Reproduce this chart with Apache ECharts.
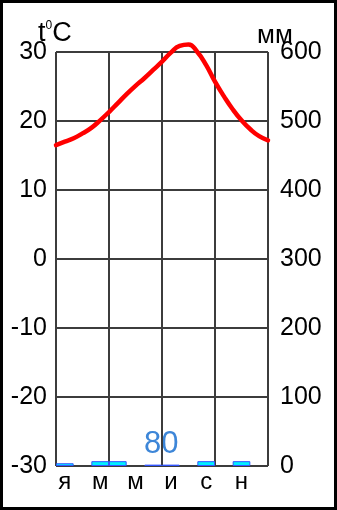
<!DOCTYPE html>
<html>
<head>
<meta charset="utf-8">
<script src="https://cdn.jsdelivr.net/npm/echarts@6/dist/echarts.min.js"></script>
<style>
html,body{margin:0;padding:0;background:#fff;}
#chart{width:337px;height:510px;}
</style>
</head>
<body>
<div id="chart"></div>
<script>
// Data
const months = ['я','ф','м','а','м','и','и','а','с','о','н','д'];
const monthLabels = ['я','','м','','м','','и','','с','','н',''];
const precipitation = [4, 0, 7, 7, 0, 2, 2, 0, 7, 0, 7, 0];
// temperature curve every half month (0..12)
const tempX = [0, 0.5, 1, 1.5, 2, 2.5, 3, 3.5, 4, 4.5, 5, 5.5, 6, 6.5, 7, 7.5, 8, 8.5, 9, 9.5, 10, 10.5, 11, 11.5, 12];
const tempY = [16.5, 17.0, 17.5, 18.2, 19.0, 20.1, 21.3, 22.6, 23.9, 25.1, 26.2, 27.4, 28.6, 29.9, 30.9, 31.1, 30.0, 28.1, 25.7, 23.6, 21.7, 20.1, 18.8, 17.8, 17.2];
const tempTicks = [-30, -20, -10, 0, 10, 20, 30];
const precipTicks = [0, 100, 200, 300, 400, 500, 600];
const totalLabel = '80';

const chart = echarts.init(document.getElementById('chart'), null, {renderer: 'canvas'});
const font = '"Liberation Sans", Arial, sans-serif';
const gridColor = '#3c3c3c';

const option = {
  animation: false,
  grid: {left: 56, right: 69, top: 52, bottom: 44},
  xAxis: [
    {
      type: 'category',
      data: months,
      boundaryGap: true,
      axisLine: {show: false},
      axisTick: {show: false},
      splitLine: {show: false},
      axisLabel: {
        interval: 0,
        formatter: (v, i) => monthLabels[i],
        color: '#000', fontSize: 24, fontFamily: font, margin: 4
      }
    },
    {
      type: 'value',
      min: 0, max: 12, interval: 3,
      position: 'bottom',
      show: true,
      axisLine: {show: false},
      axisTick: {show: false},
      axisLabel: {show: false},
      splitLine: {show: true, lineStyle: {color: gridColor, width: 2}}
    }
  ],
  yAxis: [
    {
      type: 'value',
      min: -30, max: 30, interval: 10,
      axisLine: {show: false},
      axisTick: {show: false},
      splitLine: {show: true, lineStyle: {color: gridColor, width: 2}},
      axisLabel: {color: '#000', fontSize: 25, fontFamily: font, margin: 9}
    },
    {
      type: 'value',
      min: 0, max: 600, interval: 100,
      axisLine: {show: false},
      axisTick: {show: false},
      splitLine: {show: false},
      axisLabel: {color: '#000', fontSize: 25, fontFamily: font, margin: 12}
    }
  ],
  series: [
    {
      type: 'bar',
      xAxisIndex: 0,
      yAxisIndex: 1,
      data: precipitation.map(v => (v > 0 ? v : '-')),
      barCategoryGap: '0%',
      itemStyle: {color: '#00f0ff', borderColor: '#3355ff', borderWidth: 1}
    },
    {
      type: 'line',
      xAxisIndex: 1,
      yAxisIndex: 0,
      data: tempX.map((x, i) => [x, tempY[i]]),
      smooth: 0.5,
      showSymbol: false,
      clip: false,
      lineStyle: {color: '#ff0000', width: 4.5, cap: 'round', join: 'round'}
    }
  ],
  graphic: [
    {
      type: 'rect',
      shape: {x: 1.5, y: 1.5, width: 334, height: 507},
      style: {fill: null, stroke: '#000', lineWidth: 3},
      z: 100
    },
    {
      type: 'text',
      left: 38, top: 20,
      style: {
        text: '{a|t}{b|0}{a|C}',
        rich: {
          a: {fontSize: 27, fontFamily: font, fill: '#000'},
          b: {fontSize: 12, fontFamily: font, fill: '#000', verticalAlign: 'top', padding: [0, 0, 13, 0]}
        }
      }
    },
    {
      type: 'text',
      left: 257, top: 23,
      style: {text: 'мм', fontSize: 26, fontFamily: font, fill: '#000'}
    },
    {
      type: 'text',
      left: 144, top: 429,
      style: {text: totalLabel, fontSize: 31, fontFamily: font, fill: '#3d86d8'}
    }
  ]
};
chart.setOption(option);
</script>
</body>
</html>
